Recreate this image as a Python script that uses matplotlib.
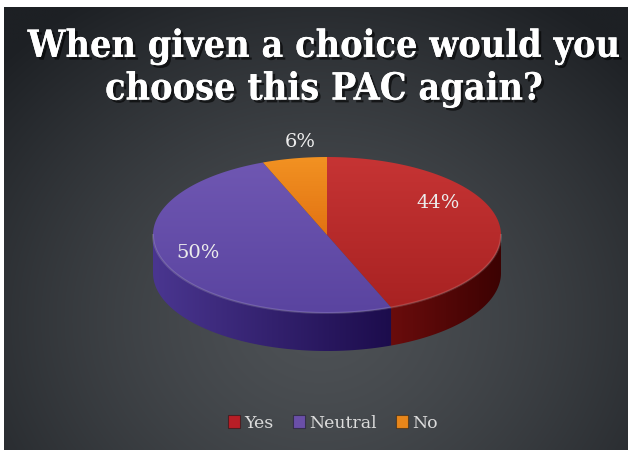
import numpy as np
import matplotlib
matplotlib.use("Agg")
import matplotlib.pyplot as plt
from matplotlib.patches import Polygon, Patch
from matplotlib.colors import LinearSegmentedColormap, to_rgb
from matplotlib import font_manager
import matplotlib.patheffects as pe

# data
labels = ['Yes', 'Neutral', 'No']
shares = [44, 50, 6]
top_colors = [('#c63434', '#a82222'), ('#6f57b2', '#5a44a0'), ('#f29222', '#e27212')]
side_colors = [('#6a0c0c', '#3c0202'), ('#4a3690', '#1c0c4c'), ('#a04a08', '#602a02')]
legend_colors = ['#b81e26', '#6a4fa8', '#e8861a']
title = 'When given a choice would you\nchoose this PAC again?'

W, H = 635, 450
fig = plt.figure(figsize=(W / 100, H / 100), dpi=100)
fig.patch.set_facecolor('white')
ax = fig.add_axes([0, 0, 1, 1])
ax.set_xlim(0, W)
ax.set_ylim(H, 0)
ax.axis('off')

# background: radial dark gradient
x0, x1, y0, y1 = 4, 628, 7, 450
gx, gy = np.meshgrid(np.linspace(x0, x1, 300), np.linspace(y0, y1, 220))
r = np.sqrt(((gx - 320) / 440) ** 2 + ((gy - 320) / 380) ** 2)
r = np.clip(r, 0, 1) ** 1.4
light, dark = np.array(to_rgb('#4d5155')), np.array(to_rgb('#1d2024'))
bg = light[None, None, :] * (1 - r[..., None]) + dark[None, None, :] * r[..., None]
ax.imshow(bg, extent=[x0, x1, y1, y0], aspect='auto', zorder=0, interpolation='bilinear')


def grad_fill(poly_pts, c1, c2, horizontal=False, z=2):
    poly = Polygon(poly_pts, closed=True, facecolor='none', edgecolor='none')
    ax.add_patch(poly)
    xs, ys = poly_pts[:, 0], poly_pts[:, 1]
    cmap = LinearSegmentedColormap.from_list('g', [c1, c2])
    if horizontal:
        img = np.linspace(0, 1, 256)[None, :]
    else:
        img = np.linspace(0, 1, 256)[:, None]
    im = ax.imshow(img, cmap=cmap, extent=[xs.min(), xs.max(), ys.max(), ys.min()],
                   aspect='auto', zorder=z, interpolation='bilinear')
    im.set_clip_path(poly)


# 3d pie geometry
cx, cy, a, b, depth = 327, 235, 174, 78, 38
fracs = np.array(shares) / sum(shares)
start = 90.0
angles = []
for f in fracs:
    end = start - f * 360
    angles.append((end, start))
    start = end


def ell(t, dy=0):
    t = np.radians(t)
    return np.column_stack([cx + a * np.cos(t), cy - b * np.sin(t) + dy])


# sides (front half only: angles 180..360)
for (t1, t2), (s1, s2) in zip(angles, side_colors):
    for base in (0, 360, -360):
        lo, hi = max(t1 + base, 180), min(t2 + base, 360)
        if hi > lo:
            ts = np.linspace(lo, hi, 120)
            pts = np.vstack([ell(ts), ell(ts[::-1], depth)])
            grad_fill(pts, s1, s2, horizontal=True, z=2)

# front rim highlight
ts = np.linspace(180, 360, 200)
rim = ell(ts)
ax.plot(rim[:, 0], rim[:, 1], color='white', alpha=0.15, lw=1.5, zorder=4)

# top faces
for (t1, t2), (c1, c2) in zip(angles, top_colors):
    ts = np.linspace(t1, t2, 200)
    pts = np.vstack([[cx, cy], ell(ts)])
    grad_fill(pts, c1, c2, horizontal=False, z=3)

# percentage labels
lab_pos = [(438, 203), (198, 253), (300, 142)]
for (lx, ly), s in zip(lab_pos, shares):
    ax.text(lx, ly, f'{s}%', color='#ececec', fontsize=14, family='DejaVu Serif',
            ha='center', va='center', zorder=6)

# title (condensed face if the system has it)
fp = font_manager.FontProperties(family='DejaVu Serif', weight='bold', stretch='condensed')
cond = 'Condensed' in font_manager.findfont(fp)
ax.text(324, 68, title, color='white', fontsize=27 if cond else 23.5, fontweight='bold',
        family='DejaVu Serif', fontstretch='condensed' if cond else 'normal',
        ha='center', va='center', linespacing=1.18 if cond else 1.35, zorder=6,
        path_effects=[pe.withSimplePatchShadow(offset=(2, -2), shadow_rgbFace='black', alpha=0.6),
                      pe.Normal()])

# legend
handles = [Patch(facecolor=c, edgecolor='#00000060', lw=0.8) for c in legend_colors]
leg = ax.legend(handles, labels, loc='center', bbox_to_anchor=(333 / W, 1 - 423 / H), ncol=3,
                frameon=False, handlelength=0.7, handleheight=0.7, handletextpad=0.25,
                columnspacing=1.1, prop={'family': 'DejaVu Serif', 'size': 12.5})
for t in leg.get_texts():
    t.set_color('#dcdcdc')

fig.savefig('out.png', dpi=100, facecolor=fig.get_facecolor())
